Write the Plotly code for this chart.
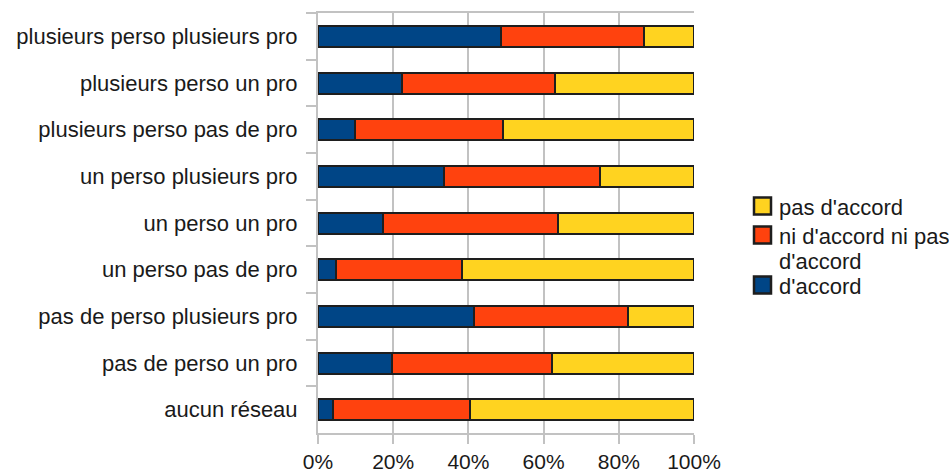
import plotly.graph_objects as go

# Categories, listed top to bottom
categories = [
    "plusieurs perso plusieurs pro",
    "plusieurs perso un pro",
    "plusieurs perso pas de pro",
    "un perso plusieurs pro",
    "un perso un pro",
    "un perso pas de pro",
    "pas de perso plusieurs pro",
    "pas de perso un pro",
    "aucun réseau",
]

# Shares in percent for each answer
d_accord = [48.8, 22.3, 9.8, 33.6, 17.4, 4.7, 41.6, 19.6, 4.1]
ni_ni = [38.0, 40.6, 39.5, 41.4, 46.3, 33.7, 40.9, 42.7, 36.3]
pas_d_accord = [13.2, 37.1, 50.7, 25.0, 36.3, 61.6, 17.5, 37.7, 59.6]

x_ticks = [0, 20, 40, 60, 80, 100]
x_tick_labels = ["0%", "20%", "40%", "60%", "80%", "100%"]

series = [
    ("d'accord", d_accord, "#004586"),
    ("ni d'accord ni pas d'accord", ni_ni, "#ff420e"),
    ("pas d'accord", pas_d_accord, "#ffd320"),
]

FONT = "Liberation Sans, Arial, sans-serif"
FSIZE = 22
TEXT = "#1a1a1a"
GRID = "#c2c2c2"
EDGE = "#1e1e1e"

fig = go.Figure()
for name, vals, color in series:
    fig.add_trace(go.Bar(
        y=categories, x=vals, name=name, orientation="h",
        marker=dict(color=color, line=dict(color=EDGE, width=2)),
        showlegend=False,
    ))

# Legend drawn as swatches + labels on the right
L, R, T, B = 318, 255, 13, 40
W, H = 949, 473
pw, ph = W - L - R, H - T - B

def px(x):
    return (x - L) / pw

def py(y):
    return (H - B - y) / ph

# (swatch colour, swatch centre y, [(text line, text centre y), ...])
legend_items = [
    ("#ffd320", 206, [("pas d'accord", 207)]),
    ("#ff420e", 235, [("ni d'accord ni pas", 236), ("d'accord", 261)]),
    ("#004586", 285, [("d'accord", 286)]),
]
for color, sy, lines in legend_items:
    fig.add_shape(
        type="rect", xref="paper", yref="paper",
        x0=px(754), x1=px(771), y0=py(sy + 8.5), y1=py(sy - 8.5),
        fillcolor=color, line=dict(color=EDGE, width=2.5),
    )
    for text, ty in lines:
        fig.add_annotation(
            xref="paper", yref="paper", x=px(777), y=py(ty),
            text=text, showarrow=False, xanchor="left", yanchor="middle",
            align="left", font=dict(family=FONT, size=FSIZE, color=TEXT),
        )

fig.update_layout(
    width=W, height=H,
    margin=dict(l=L, r=R, t=T, b=B),
    barmode="stack", bargap=0.55,
    plot_bgcolor="white", paper_bgcolor="white",
    font=dict(family=FONT, size=FSIZE, color=TEXT),
    xaxis=dict(
        range=[0, 100], tickvals=x_ticks, ticktext=x_tick_labels,
        tickfont=dict(size=21),
        showgrid=True, gridcolor=GRID, gridwidth=2,
        showline=True, linecolor=GRID, linewidth=2, mirror=True,
        ticks="outside", ticklen=9, tickcolor=GRID, tickwidth=2,
        ticklabelstandoff=0, automargin=False,
        zeroline=False, fixedrange=True,
    ),
    yaxis=dict(
        autorange="reversed", showgrid=False,
        showline=True, linecolor=GRID, linewidth=2,
        ticks="outside", ticklen=10, tickcolor=GRID, tickwidth=2,
        tickson="boundaries", ticklabelstandoff=14, automargin=False,
        fixedrange=True,
    ),
)

fig.write_html("out.html")
